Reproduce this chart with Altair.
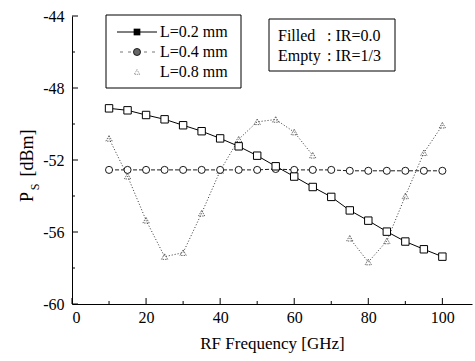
import altair as alt
import pandas as pd

freq = [10, 15, 20, 25, 30, 35, 40, 45, 50, 55, 60, 65, 70, 75, 80, 85, 90, 95, 100]
ps_l02 = [-49.13, -49.24, -49.5, -49.74, -50.07, -50.4, -50.8, -51.24, -51.76, -52.35,
          -52.92, -53.5, -54.05, -54.8, -55.37, -55.98, -56.53, -56.96, -57.37]
ps_l04 = [-52.55, -52.55, -52.55, -52.55, -52.55, -52.55, -52.55, -52.55, -52.55, -52.5,
          -52.55, -52.55, -52.55, -52.6, -52.6, -52.6, -52.6, -52.6, -52.6]
ps_l08 = [-50.8, -52.9, -55.35, -57.37, -57.15, -54.96, -52.6, -50.85, -49.88, -49.75,
          -50.45, -51.74, None, -56.35, -57.67, -56.5, -54.0, -51.6, -50.07]

x_major = [0, 20, 40, 60, 80, 100]
x_minor = [10, 30, 50, 70, 90]
y_major = [-44, -48, -52, -56, -60]
y_minor = [-46, -50, -54, -58]

legend_labels = ["L=0.2 mm", "L=0.4 mm", "L=0.8 mm"]
note_names = ["Filled", "Empty"]
note_values = [": IR=0.0", ": IR=1/3"]

FONT = "Liberation Serif"
W, H = 400, 288

xs = alt.Scale(domain=[0, 108], nice=False, zero=False)
ys = alt.Scale(domain=[-60, -44], nice=False, zero=False)

df = pd.DataFrame({"f": freq, "a": ps_l02, "b": ps_l04, "c": ps_l08})

xaxis = alt.Axis(values=x_major, ticks=False, grid=False, domainColor="black",
                 labelFont=FONT, labelFontSize=16, labelColor="black", labelPadding=5,
                 labelExpr="datum.value + ''",
                 title="RF Frequency [GHz]", titleFont=FONT, titleFontSize=17,
                 titleFontWeight="normal", titleColor="black", titlePadding=10)
yaxis = alt.Axis(values=y_major, ticks=False, grid=False, domainColor="black",
                 labelFont=FONT, labelFontSize=16, labelColor="black", labelPadding=8,
                 labelExpr="datum.value + ''",
                 title=None)

base = alt.Chart(df)

l1 = base.mark_line(color="black", strokeWidth=1).encode(
    x=alt.X("f:Q", scale=xs, axis=xaxis), y=alt.Y("a:Q", scale=ys, axis=yaxis))
p1 = base.mark_point(shape="square", size=55, filled=True, fill="white",
                     stroke="black", strokeWidth=1, opacity=1).encode(
    x=alt.X("f:Q", scale=xs), y=alt.Y("a:Q", scale=ys))

l2 = base.mark_line(color="black", strokeWidth=0.9, strokeDash=[4, 2]).encode(
    x=alt.X("f:Q", scale=xs), y=alt.Y("b:Q", scale=ys))
p2 = base.mark_point(shape="circle", size=50, filled=True, fill="white",
                     stroke="black", strokeWidth=0.9, opacity=1).encode(
    x=alt.X("f:Q", scale=xs), y=alt.Y("b:Q", scale=ys))

l3 = base.mark_line(color="#333", strokeWidth=1, strokeDash=[1, 2]).encode(
    x=alt.X("f:Q", scale=xs), y=alt.Y("c:Q", scale=ys))
p3 = base.mark_point(shape="triangle-up", size=40, filled=False,
                     stroke="#444", strokeWidth=0.8, strokeDash=[1.5, 1], opacity=1).encode(
    x=alt.X("f:Q", scale=xs), y=alt.Y("c:Q", scale=ys))

# inward ticks
xt_major = alt.Chart(pd.DataFrame({"v": x_major})).mark_rule(color="black").encode(
    x=alt.X("v:Q", scale=xs), y=alt.value(H), y2=alt.value(H - 6))
xt_minor = alt.Chart(pd.DataFrame({"v": x_minor})).mark_rule(color="black").encode(
    x=alt.X("v:Q", scale=xs), y=alt.value(H), y2=alt.value(H - 3))
yt_major = alt.Chart(pd.DataFrame({"v": y_major})).mark_rule(color="black").encode(
    y=alt.Y("v:Q", scale=ys), x=alt.value(0), x2=alt.value(6))
yt_minor = alt.Chart(pd.DataFrame({"v": y_minor})).mark_rule(color="black").encode(
    y=alt.Y("v:Q", scale=ys), x=alt.value(0), x2=alt.value(3))

# y title built from parts (P with subscript S)
one = pd.DataFrame({"t": ["P"]})
yt_p = alt.Chart(one).mark_text(font=FONT, fontSize=18, angle=270, align="center",
                                baseline="middle", color="black").encode(
    text="t:N", x=alt.value(-44), y=alt.value(181))
yt_s = alt.Chart(pd.DataFrame({"t": ["S"]})).mark_text(font=FONT, fontSize=12, angle=270,
                                                       align="center", baseline="middle",
                                                       color="black").encode(
    text="t:N", x=alt.value(-37), y=alt.value(171))
yt_u = alt.Chart(pd.DataFrame({"t": ["[dBm]"]})).mark_text(font=FONT, fontSize=18, angle=270,
                                                           align="center", baseline="middle",
                                                           color="black").encode(
    text="t:N", x=alt.value(-44), y=alt.value(137))

# legend box 1
box1 = alt.Chart(one).mark_rect(fill="white", stroke="black", strokeWidth=1).encode(
    x=alt.value(34), x2=alt.value(169), y=alt.value(-1), y2=alt.value(72))
leg_rows = [16, 36, 56]
lg1_line = alt.Chart(one).mark_rule(color="black", strokeWidth=1).encode(
    x=alt.value(45), x2=alt.value(85), y=alt.value(leg_rows[0]))
lg1_sym = alt.Chart(one).mark_point(shape="square", size=45, filled=True, color="black",
                                    opacity=1).encode(x=alt.value(65), y=alt.value(leg_rows[0]))
lg2_line = alt.Chart(one).mark_rule(color="#555", strokeWidth=0.8, strokeDash=[3, 5]).encode(
    x=alt.value(48), x2=alt.value(84), y=alt.value(leg_rows[1]))
lg2_sym = alt.Chart(one).mark_point(shape="circle", size=50, filled=True, fill="#666",
                                    stroke="black", strokeWidth=0.8, opacity=1).encode(
    x=alt.value(65), y=alt.value(leg_rows[1]))
lg3_sym = alt.Chart(one).mark_point(shape="triangle-up", size=30, filled=False, stroke="#666",
                                    strokeWidth=0.8, strokeDash=[1, 1], opacity=1).encode(
    x=alt.value(65), y=alt.value(leg_rows[2]))
leg_text = alt.Chart(pd.DataFrame({"t": legend_labels, "r": leg_rows})).mark_text(
    font=FONT, fontSize=16, align="left", baseline="middle", color="black").encode(
    text="t:N", x=alt.value(88), y=alt.Y("r:Q", scale=None))

# legend box 2
box2 = alt.Chart(one).mark_rect(fill="white", stroke="black", strokeWidth=1).encode(
    x=alt.value(197), x2=alt.value(323), y=alt.value(3), y2=alt.value(55))
note_rows = [20, 40]
note_a = alt.Chart(pd.DataFrame({"t": note_names, "r": note_rows})).mark_text(
    font=FONT, fontSize=16, align="left", baseline="middle", color="black").encode(
    text="t:N", x=alt.value(206), y=alt.Y("r:Q", scale=None))
note_b = alt.Chart(pd.DataFrame({"t": note_values, "r": note_rows})).mark_text(
    font=FONT, fontSize=16, align="left", baseline="middle", color="black").encode(
    text="t:N", x=alt.value(255), y=alt.Y("r:Q", scale=None))

chart = alt.layer(
    l1, l2, l3, p3, p2, p1,
    xt_major, xt_minor, yt_major, yt_minor,
    yt_p, yt_s, yt_u,
    box1, lg1_line, lg1_sym, lg2_line, lg2_sym, lg3_sym, leg_text,
    box2, note_a, note_b,
).properties(
    width=W, height=H,
    autosize=alt.AutoSizeParams(type="none"),
    padding={"left": 72, "top": 16, "right": 3, "bottom": 57},
    background="white",
).configure_view(stroke=None)

chart.save("out.html", embed_options={"renderer": "svg", "actions": False})
